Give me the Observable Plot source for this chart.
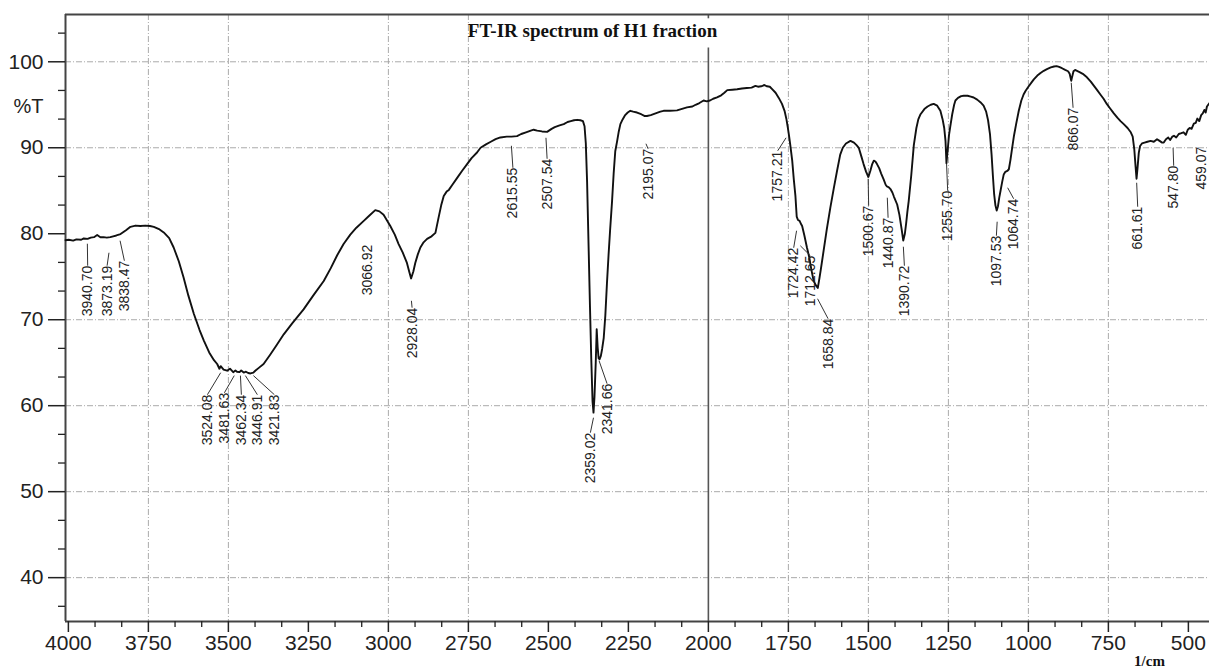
<!DOCTYPE html>
<html><head><meta charset="utf-8">
<script src="https://cdn.jsdelivr.net/npm/d3@7"></script>
<script src="https://cdn.jsdelivr.net/npm/@observablehq/plot@0.6"></script>
<style>body{margin:0;background:#fff} #chart svg{display:block}</style>
</head><body><div id="chart"></div>
<script>
// Spectrum: wavenumber (1/cm) and %T
const wavenumber = [4009,3999,3985,3975,3960,3952,3940,3930,3920,3910,3900,3890,3880,3869,3860,3850,3837,3820,3806,3790,3775,3760,3745,3733,3715,3702,3685,3671,3655,3640,3625,3608,3590,3577,3560,3545,3535,3528,3524,3515,3504,3495,3485,3478,3473,3465,3460,3452,3445,3438,3431,3422,3416,3405,3390,3370,3350,3327,3300,3265,3235,3202,3180,3160,3140,3119,3100,3077,3060,3041,3028,3015,2994,2980,2968,2955,2942,2935,2929,2922,2916,2908,2900,2890,2879,2865,2853,2843,2835,2827,2818,2811,2800,2785,2770,2754,2740,2723,2712,2695,2680,2665,2650,2630,2615,2598,2585,2570,2555,2546,2535,2520,2504,2490,2480,2465,2452,2440,2430,2420,2410,2400,2392,2387,2383,2379,2374,2370,2366,2362,2359,2356,2352,2349,2346,2343,2340,2336,2332,2327,2322,2317,2312,2307,2301,2296,2291,2285,2280,2275,2268,2260,2252,2244,2235,2223,2210,2200,2192,2180,2165,2150,2140,2120,2098,2085,2067,2050,2040,2028,2015,2005,1995,1985,1973,1960,1950,1941,1925,1910,1895,1880,1865,1853,1845,1835,1825,1817,1808,1800,1790,1780,1770,1762,1756,1752,1748,1744,1738,1733,1728,1724,1720,1715,1710,1707,1700,1692,1685,1678,1671,1664,1658,1653,1648,1640,1630,1619,1608,1598,1588,1580,1570,1556,1545,1537,1530,1522,1515,1507,1500,1494,1488,1483,1478,1473,1466,1460,1452,1446,1442,1436,1431,1425,1420,1410,1403,1396,1391,1386,1382,1378,1374,1366,1358,1350,1344,1337,1325,1315,1305,1296,1285,1275,1268,1263,1259,1256,1252,1248,1244,1238,1232,1228,1220,1210,1202,1190,1180,1171,1160,1150,1140,1132,1126,1120,1115,1111,1107,1103,1099,1095,1091,1087,1082,1077,1072,1066,1061,1056,1051,1045,1038,1030,1022,1015,1009,1000,990,983,972,962,952,942,930,920,912,904,895,885,876,871,868,866,863,859,854,848,840,830,817,805,795,785,775,765,755,745,733,722,712,702,690,680,674,669,665,662,659,655,651,645,637,628,618,608,598,590,582,577,570,563,557,550,545,538,530,522,515,508,502,496,490,483,477,472,466,460,455,450,446,442,438,434];
const transmittance = [79.25,79.3,79.2,79.35,79.3,79.45,79.4,79.55,79.6,79.85,79.6,79.6,79.55,79.6,79.7,79.8,79.96,80.4,80.8,80.95,80.9,80.95,80.9,80.8,80.5,80.15,79.5,78.4,76.8,74.9,72.8,70.7,68.8,67.6,66.2,65.3,64.85,64.3,64.6,64.2,64.07,64.3,63.9,64.1,63.95,63.9,64.1,63.85,63.95,63.8,63.75,63.85,64.07,64.4,64.85,65.9,67.0,68.3,69.6,71.2,72.8,74.5,76.0,77.5,78.8,79.9,80.7,81.5,82.1,82.75,82.6,82.2,80.9,79.9,78.8,77.8,76.6,75.6,74.8,75.6,76.6,77.6,78.4,79.0,79.4,79.7,80.1,81.9,83.3,84.4,84.9,85.1,85.7,86.5,87.3,88.1,88.8,89.45,90.0,90.4,90.7,91.0,91.2,91.3,91.3,91.35,91.6,91.8,92.0,92.1,92.0,91.9,91.85,92.2,92.4,92.6,92.75,93.0,93.1,93.2,93.25,93.2,93.1,92.5,90.5,86.0,78.0,71.5,65.5,60.5,59.2,61.0,65.0,68.9,66.8,65.5,65.4,65.8,66.6,67.9,70.5,74.2,77.5,80.5,83.8,87.0,89.6,90.8,91.9,92.75,93.3,93.8,94.1,94.3,94.2,94.1,93.9,93.7,93.7,93.8,94.0,94.2,94.3,94.3,94.35,94.5,94.7,94.8,95.0,95.2,95.5,95.4,95.5,95.7,95.85,96.1,96.4,96.7,96.75,96.8,96.9,96.95,97.0,97.2,97.1,97.15,97.3,97.15,97.1,96.8,96.4,95.8,95.1,94.3,93.3,92.4,91.4,90.3,88.5,86.3,84.4,82.0,81.6,81.5,81.1,80.9,79.8,78.4,77.3,75.8,74.5,74.0,73.7,74.8,76.0,78.0,80.5,83.0,85.3,87.3,89.2,90.0,90.5,90.8,90.6,90.3,90.0,89.0,88.1,87.2,86.6,87.3,88.1,88.5,88.4,88.1,87.6,87.0,86.3,85.7,85.5,85.4,85.2,84.8,84.3,83.4,82.2,80.5,79.2,80.0,81.2,82.6,83.8,86.8,90.3,92.3,93.3,93.9,94.5,94.8,95.0,95.1,94.9,94.3,93.3,92.3,90.8,88.2,89.8,91.5,92.5,93.9,95.0,95.5,95.8,96.0,96.05,96.05,95.95,95.85,95.6,95.3,94.9,94.2,93.2,91.6,89.2,86.8,84.6,83.3,82.7,83.2,84.2,85.0,86.0,86.9,87.2,87.3,87.5,88.6,89.9,91.4,92.8,94.3,95.5,96.2,96.6,97.1,97.6,97.95,98.4,98.7,98.95,99.15,99.35,99.45,99.5,99.4,99.25,99.05,98.9,98.6,98.1,97.8,98.3,98.9,99.05,98.95,98.8,98.6,98.2,97.7,97.2,96.7,96.2,95.7,95.1,94.6,94.0,93.5,93.1,92.75,92.3,91.8,91.3,89.8,87.8,86.4,87.6,89.4,90.2,90.5,90.6,90.7,90.8,90.7,91.0,90.8,90.6,90.6,91.0,91.2,90.9,91.3,91.4,91.2,91.6,91.7,91.8,91.5,92.1,92.3,92.2,92.8,92.9,93.4,93.1,93.8,94.0,94.4,94.1,94.8,95.0,95.2];

// Peak annotations: peak wavenumber, where its label sits (1/cm), label top (%T), leader end (%T)
const peakWavenumber = [3940.70,3873.19,3838.47,3524.08,3481.63,3462.34,3446.91,3421.83,3066.92,2928.04,2615.55,2507.54,2359.02,2341.66,2195.07,1757.21,1724.42,1712.65,1658.84,1500.67,1440.87,1390.72,1255.70,1097.53,1064.74,866.07,661.61,547.80,459.07];
const labelWavenumber = [3939.7,3879,3825,3565.6,3512.5,3459.4,3409.4,3356.3,3065.6,2925.9,2610.9,2504,2368.75,2316.6,2188.4,1783.4,1733.4,1681.25,1625.9,1499.1,1438.4,1387.5,1252.2,1100,1046,860.3,658.4,545.9,458];
const labelTop = [76.28,76.28,76.86,61.28,61.5,61.28,61.28,61.28,78.72,71.4,87.67,88.72,56.86,62.56,89.88,89.65,78.37,77.44,70.12,83.26,81.86,76.28,85.0,79.77,84.07,94.65,83.14,87.91,90.12];
const leaderEnd = [78.84,77.79,79.19,63.84,63.5,63.5,63.5,63.5,null,72.2,90.23,91.16,58.6,65.23,90.47,91.16,80.35,78.6,72.44,86.4,84.19,78.49,88.14,81.4,85.35,97.56,85.93,90.0,null];

// Axis ticks and grid
const xTicks = [4000,3750,3500,3250,3000,2750,2500,2250,2000,1750,1500,1250,1000,750,500];
const yTicks = [40,50,60,70,80,90,100];
const gridX = [3750,3500,3000,2750,1750,1500,1250,1000,750];
const gridY = [40,50,60,70,90,100];

const xDomain = [4009, 434];
const yDomain = [34.9, 105.5];

const spectrum = wavenumber.map((w, i) => ({w, t: transmittance[i]}));
const peaks = peakWavenumber.map((p, i) => ({
  label: p.toFixed(2), pw: p, lx: labelWavenumber[i], ty: labelTop[i], le: leaderEnd[i]
}));
const xMinor = [], yMinor = [];
for (let i = 0; i < xTicks.length - 1; i++) {
  const a = xTicks[i], b = xTicks[i + 1];
  xMinor.push(a + (b - a) / 3, a + 2 * (b - a) / 3);
}
for (let i = 0; i < yTicks.length - 1; i++) {
  const a = yTicks[i], b = yTicks[i + 1];
  yMinor.push(a + (b - a) / 3, a + 2 * (b - a) / 3);
}
yMinor.push(36.667, 103.333);

const gridStyle = {stroke: "#a0a0a0", strokeWidth: 0.9, strokeDasharray: "6,2,1,2"};
const plain = d => String(d);

const chart = Plot.plot({
  width: 1209,
  height: 670,
  marginLeft: 65,
  marginRight: 0,
  marginTop: 14,
  marginBottom: 49,
  style: {fontFamily: "'Liberation Sans', Arial, sans-serif", fontSize: "21px", color: "#222", background: "#fff"},
  x: {domain: xDomain},
  y: {domain: yDomain},
  marks: [
    Plot.ruleY(gridY, gridStyle),
    Plot.ruleX(gridX, gridStyle),
    Plot.ruleX([2000], {y1: yDomain[0], y2: 101.6, stroke: "#555", strokeWidth: 1.6}),
    Plot.ruleX([2000], {y1: yDomain[1], y2: 105.0, stroke: "#555", strokeWidth: 1.6}),
    Plot.ruleY([yDomain[1]], {stroke: "#444", strokeWidth: 2.2}),
    Plot.ruleY([yDomain[0]], {stroke: "#444", strokeWidth: 2}),
    Plot.ruleX([xDomain[0]], {stroke: "#444", strokeWidth: 2}),
    Plot.axisX(xTicks, {tickSize: 11, tickPadding: 3, strokeWidth: 1.5, tickFormat: plain, label: null}),
    Plot.axisX(xMinor, {tickSize: 6, tickFormat: () => "", strokeWidth: 1.3, label: null}),
    Plot.axisY(yTicks, {tickSize: 17, tickPadding: 5, strokeWidth: 1.5, tickFormat: plain, label: null}),
    Plot.axisY(yMinor, {tickSize: 7, tickFormat: () => "", strokeWidth: 1.3, label: null}),
    Plot.line(spectrum, {x: "w", y: "t", stroke: "#111", strokeWidth: 1.9, strokeLinejoin: "round"}),
    Plot.link(peaks.filter(d => d.le != null), {x1: "lx", y1: "ty", x2: "pw", y2: "le", stroke: "#333", strokeWidth: 1}),
    Plot.text(peaks, {x: "lx", y: "ty", text: "label", rotate: -90, textAnchor: "end", lineAnchor: "middle", fontSize: 14, fill: "#222"}),
    Plot.text(["FT-IR spectrum of H1 fraction"], {text: d => d, frameAnchor: "top", dx: -45, dy: 16, lineAnchor: "middle", fontFamily: "'Liberation Serif', 'Times New Roman', serif", fontWeight: "bold", fontSize: 19, fill: "#111"}),
    Plot.text(["%T"], {text: d => d, frameAnchor: "top-left", dx: -52, dy: 92, textAnchor: "start", lineAnchor: "middle", fontSize: 20, fill: "#222"}),
    Plot.text(["1/cm"], {text: d => d, frameAnchor: "bottom-right", dx: -60, dy: 40, textAnchor: "middle", lineAnchor: "middle", fontFamily: "'Liberation Serif', 'Times New Roman', serif", fontWeight: "bold", fontSize: 15, fill: "#111"})
  ]
});
document.getElementById("chart").appendChild(chart);
</script>
</body></html>
